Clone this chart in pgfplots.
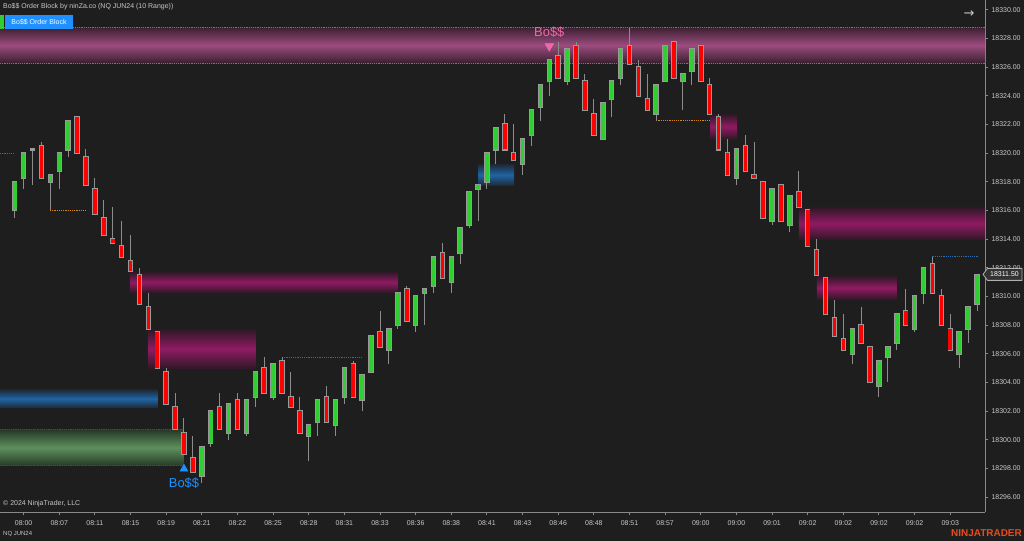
\documentclass[border=0pt]{standalone}
\usepackage{pgfplots}
\usepackage{pgfplotstable}
\pgfplotsset{compat=1.18}
\usetikzlibrary{backgrounds}
\usepackage{fontspec}
\setmainfont{Liberation Sans}
\newfontfamily\dejavu{DejaVu Sans}

\definecolor{bg}{HTML}{1E1E1E}
\definecolor{upc}{HTML}{32CD32}
\definecolor{dnc}{HTML}{FF0000}
\definecolor{outc}{HTML}{9A9A9A}
\definecolor{wickc}{HTML}{8C8C8C}
\definecolor{axisc}{HTML}{8A8A8A}
\definecolor{labc}{HTML}{C8C8C8}
\definecolor{pinkmid}{HTML}{901A62}
\definecolor{pinkedge}{HTML}{2E1826}
\definecolor{topmid}{HTML}{9C4C7E}
\definecolor{topedge}{HTML}{3A1F30}
\definecolor{bluemid}{HTML}{1F64A4}
\definecolor{blueedge}{HTML}{1E2A38}
\definecolor{greenmid}{HTML}{5E905E}
\definecolor{greenedge}{HTML}{253825}
\definecolor{dotorange}{HTML}{D4881E}
\definecolor{dotblue}{HTML}{2B6CB0}
\definecolor{dotgreen}{HTML}{2E8B2E}
\definecolor{dotolive}{HTML}{8A7A3A}
\definecolor{dotteal}{HTML}{2E5A5A}
\definecolor{bosspink}{HTML}{EE6AA7}
\definecolor{bossblue}{HTML}{1E90FF}
\definecolor{ntorange}{HTML}{E84C1F}
\definecolor{pricefill}{HTML}{333333}
\definecolor{priceedge}{HTML}{B0B0B0}

% range bars: i, open, high, low, close
\pgfplotstableread{
i O H L C
0 18316.00 18318.00 18315.50 18318.00
1 18318.25 18320.00 18317.50 18320.00
2 18320.25 18320.25 18317.75 18320.25
4 18318.00 18318.50 18316.00 18318.50
5 18318.75 18320.00 18317.50 18320.00
6 18320.25 18322.25 18319.75 18322.25
21 18297.50 18299.50 18297.00 18299.50
22 18299.75 18302.00 18299.50 18302.00
24 18300.50 18302.50 18300.00 18302.50
26 18300.50 18302.75 18300.25 18302.75
27 18303.00 18304.75 18302.25 18304.75
29 18303.00 18305.25 18302.75 18305.25
33 18300.25 18301.00 18298.50 18301.00
34 18301.25 18302.75 18300.25 18302.75
36 18301.00 18302.75 18300.25 18302.75
37 18303.00 18305.00 18302.50 18305.00
39 18302.75 18304.50 18302.00 18304.50
40 18304.75 18307.25 18304.75 18307.25
42 18306.25 18307.75 18305.25 18307.75
43 18308.00 18310.25 18307.75 18310.25
45 18308.00 18310.00 18307.50 18310.00
46 18310.25 18310.50 18308.00 18310.50
47 18310.75 18312.75 18310.25 18312.75
49 18311.00 18312.75 18310.25 18312.75
50 18313.00 18314.75 18312.25 18314.75
51 18315.00 18317.25 18314.75 18317.25
52 18317.50 18317.75 18315.25 18317.75
53 18318.00 18320.00 18317.50 18320.00
54 18320.25 18321.75 18319.25 18321.75
57 18319.25 18321.00 18318.50 18321.00
58 18321.25 18323.00 18320.50 18323.00
59 18323.25 18324.75 18322.25 18324.75
60 18325.00 18326.50 18324.00 18326.50
62 18325.00 18327.25 18324.75 18327.25
66 18321.00 18323.50 18321.00 18323.50
67 18323.75 18325.00 18322.50 18325.00
68 18325.25 18327.25 18324.75 18327.25
72 18322.75 18324.75 18322.25 18324.75
73 18325.00 18327.50 18325.00 18327.50
75 18325.00 18325.50 18323.00 18325.50
76 18325.75 18327.25 18324.75 18327.25
81 18318.25 18320.25 18317.75 18320.25
85 18315.25 18317.50 18315.00 18317.50
87 18315.00 18317.00 18314.50 18317.00
94 18306.00 18307.75 18305.25 18307.75
97 18303.75 18305.50 18303.00 18305.50
98 18305.75 18306.50 18304.00 18306.50
99 18306.75 18308.75 18306.25 18308.75
101 18307.75 18310.00 18307.50 18310.00
102 18310.25 18312.00 18309.50 18312.00
106 18306.00 18307.50 18305.00 18307.50
107 18307.75 18309.25 18306.75 18309.25
108 18309.50 18311.50 18309.00 18311.50
}\upbars

\pgfplotstableread{
i O H L C
3 18320.50 18320.75 18318.25 18318.25
7 18322.50 18322.50 18320.00 18320.00
8 18319.75 18320.25 18317.75 18317.75
9 18317.50 18318.25 18315.75 18315.75
10 18315.50 18316.75 18314.25 18314.25
11 18314.00 18316.25 18313.75 18313.75
12 18313.50 18315.25 18312.75 18312.75
13 18312.50 18314.25 18311.75 18311.75
14 18311.50 18312.00 18309.50 18309.50
15 18309.25 18310.25 18307.75 18307.75
16 18307.50 18307.50 18305.00 18305.00
17 18304.75 18305.00 18302.50 18302.50
18 18302.25 18303.25 18300.75 18300.75
19 18300.50 18301.50 18299.00 18299.00
20 18298.75 18300.25 18297.75 18297.75
23 18302.25 18303.25 18300.75 18300.75
25 18302.75 18303.25 18300.75 18300.75
28 18305.00 18305.75 18303.25 18303.25
30 18305.50 18305.75 18303.25 18303.25
31 18303.00 18304.75 18302.25 18302.25
32 18302.00 18303.00 18300.50 18300.50
35 18303.00 18303.75 18301.25 18301.25
38 18305.25 18305.50 18303.00 18303.00
41 18307.50 18309.00 18306.50 18306.50
44 18310.50 18310.75 18308.25 18308.25
48 18313.00 18313.75 18311.25 18311.25
55 18322.00 18322.75 18320.25 18320.25
56 18320.00 18322.00 18319.50 18319.50
61 18326.75 18327.75 18325.25 18325.25
63 18327.50 18327.75 18325.25 18325.25
64 18325.00 18325.50 18323.00 18323.00
65 18322.75 18323.75 18321.25 18321.25
69 18327.50 18328.75 18326.25 18326.25
70 18326.00 18326.50 18324.00 18324.00
71 18323.75 18325.50 18323.00 18323.00
74 18327.75 18327.75 18325.25 18325.25
77 18327.50 18327.50 18325.00 18325.00
78 18324.75 18325.25 18322.75 18322.75
79 18322.50 18322.75 18320.25 18320.25
80 18320.00 18321.00 18318.50 18318.50
82 18320.50 18321.25 18318.75 18318.75
83 18318.50 18320.75 18318.25 18318.25
84 18318.00 18318.00 18315.50 18315.50
86 18317.75 18317.75 18315.25 18315.25
88 18317.25 18318.75 18316.25 18316.25
89 18316.00 18316.00 18313.50 18313.50
90 18313.25 18314.00 18311.50 18311.50
91 18311.25 18311.25 18308.75 18308.75
92 18308.50 18309.75 18307.25 18307.25
93 18307.00 18308.75 18306.25 18306.25
95 18308.00 18309.25 18306.75 18306.75
96 18306.50 18306.50 18304.00 18304.00
100 18309.00 18310.50 18308.00 18308.00
103 18312.25 18312.75 18310.25 18310.25
104 18310.00 18310.50 18308.00 18308.00
105 18307.75 18308.75 18306.25 18306.25
}\dnbars

% exact decimal helper columns (offset from 18300)
\pgfplotstableset{
  mklo/.style={create col/assign/.code={\edef\entry{\fpeval{min(\thisrow{O},\thisrow{C})-18300}}\pgfkeyslet{/pgfplots/table/create col/next content}\entry}},
  mkbh/.style={create col/assign/.code={\edef\entry{\fpeval{abs(\thisrow{C}-\thisrow{O})}}\pgfkeyslet{/pgfplots/table/create col/next content}\entry}},
  mklw/.style={create col/assign/.code={\edef\entry{\fpeval{\thisrow{L}-18300}}\pgfkeyslet{/pgfplots/table/create col/next content}\entry}},
  mkwh/.style={create col/assign/.code={\edef\entry{\fpeval{\thisrow{H}-\thisrow{L}}}\pgfkeyslet{/pgfplots/table/create col/next content}\entry}},
}
\pgfplotstablecreatecol[mklo]{lo}\upbars
\pgfplotstablecreatecol[mkbh]{bh}\upbars
\pgfplotstablecreatecol[mklw]{lw}\upbars
\pgfplotstablecreatecol[mkwh]{wh}\upbars
\pgfplotstablecreatecol[mklo]{lo}\dnbars
\pgfplotstablecreatecol[mkbh]{bh}\dnbars
\pgfplotstablecreatecol[mklw]{lw}\dnbars
\pgfplotstablecreatecol[mkwh]{wh}\dnbars

\pgfplotsset{
  raw/.style={y filter/.expression={y-18300}},
  zone/.style n args={2}{raw, draw=none, forget plot, top color=#2, bottom color=#2, middle color=#1},
  dotl/.style={raw, forget plot, line width=1bp, dash pattern=on 1.2bp off 1bp, #1},
  wicks/.style={draw=none, mark=none, forget plot,
    error bars/.cd, y dir=plus, y explicit, error mark=none,
    error bar style={draw=wickc, line width=1bp, solid}},
  bodies/.style n args={2}{draw=none, mark=none, forget plot,
    error bars/.cd, y dir=plus, y explicit, error mark=none,
    error bar style={draw=#1, line width=#2, solid}},
}

\begin{document}
\begin{tikzpicture}[x=1bp,y=1bp]
\begin{axis}[
  at={(0,19.9)}, anchor=south west,
  width=985bp, height=512bp, scale only axis,
  xmin=-1.65, xmax=108.9,
  ymin=-5.08, ymax=30.65,
  axis x line*=bottom, axis y line*=right,
  axis line style={draw=axisc, line width=1bp},
  tick align=outside, major tick length=3bp,
  major tick style={draw=axisc, line width=1bp},
  minor tick num=0,
  xtick={1,5,...,105},
  xticklabels={08:00,08:07,08:11,08:15,08:19,08:21,08:22,08:25,08:28,08:31,08:33,08:36,08:38,08:41,08:43,08:46,08:48,08:51,08:57,09:00,09:00,09:01,09:02,09:02,09:02,09:02,09:03},
  ytick={-4,-2,...,30},
  yticklabels={18296.00,18298.00,18300.00,18302.00,18304.00,18306.00,18308.00,18310.00,18312.00,18314.00,18316.00,18318.00,18320.00,18322.00,18324.00,18326.00,18328.00,18330.00},
  ticklabel style={font=\fontsize{7}{8}\selectfont, text=labc},
  xticklabel shift=2bp,
]
% order-block zones
\addplot[zone={topmid}{topedge}] coordinates {(-1.65,18326.28) (108.9,18326.28) (108.9,18328.79) (-1.65,18328.79)} -- cycle;
\addplot[zone={pinkmid}{pinkedge}] coordinates {(12.94,18310.25) (43.02,18310.25) (43.02,18311.70) (12.94,18311.70)} -- cycle;
\addplot[zone={pinkmid}{pinkedge}] coordinates {(14.96,18304.95) (27.08,18304.95) (27.08,18307.72) (14.96,18307.72)} -- cycle;
\addplot[zone={bluemid}{blueedge}] coordinates {(-1.65,18302.23) (16.05,18302.23) (16.05,18303.48) (-1.65,18303.48)} -- cycle;
\addplot[zone={greenmid}{greenedge}] coordinates {(-1.65,18298.18) (19.0,18298.18) (19.0,18300.71) (-1.65,18300.71)} -- cycle;
\addplot[zone={bluemid}{blueedge}] coordinates {(52.0,18317.74) (56.04,18317.74) (56.04,18319.21) (52.0,18319.21)} -- cycle;
\addplot[zone={pinkmid}{pinkedge}] coordinates {(78.04,18320.97) (81.07,18320.97) (81.07,18322.72) (78.04,18322.72)} -- cycle;
\addplot[zone={pinkmid}{pinkedge}] coordinates {(88.02,18313.95) (108.9,18313.95) (108.9,18316.23) (88.02,18316.23)} -- cycle;
\addplot[zone={pinkmid}{pinkedge}] coordinates {(90.04,18309.77) (99.02,18309.77) (99.02,18311.41) (90.04,18311.41)} -- cycle;
% dotted level lines
\addplot[dotl=dotolive] coordinates {(-1.65,18328.79) (108.9,18328.79)};
\addplot[dotl=dotolive] coordinates {(-1.65,18326.28) (108.9,18326.28)};
\addplot[dotl=dotteal] coordinates {(-1.65,18300.71) (19.0,18300.71)};
\addplot[dotl=dotteal] coordinates {(-1.65,18298.18) (19.0,18298.18)};
\addplot[dotl=dotgreen] coordinates {(-1.65,18320.0) (0,18320.0)};
\addplot[dotl=dotorange] coordinates {(3.96,18316.0) (8.0,18316.0)};
\addplot[dotl=dotblue] coordinates {(30.0,18305.75) (39.0,18305.75)};
\addplot[dotl=dotorange] coordinates {(72.0,18322.25) (78.04,18322.25)};
\addplot[dotl=dotblue] coordinates {(103.0,18312.75) (108.1,18312.75)};
% wicks
\addplot[wicks] table[x=i, y=lw, y error plus=wh] {\upbars};
\addplot[wicks] table[x=i, y=lw, y error plus=wh] {\dnbars};
% body outlines
\addplot[bodies={outc}{5.5bp}] table[x=i, y expr=\thisrow{lo}-0.07, y error plus expr=\thisrow{bh}+0.14] {\upbars};
\addplot[bodies={outc}{5.5bp}] table[x=i, y expr=\thisrow{lo}-0.07, y error plus expr=\thisrow{bh}+0.14] {\dnbars};
% body fills
\addplot[bodies={upc}{3.6bp}] table[x=i, y=lo, y error plus=bh] {\upbars};
\addplot[bodies={dnc}{3.6bp}] table[x=i, y=lo, y error plus=bh] {\dnbars};
% Bo$$ signals
\addplot[raw, only marks, mark=triangle*, mark size=4.6bp, color=bossblue, mark options={draw=none}, forget plot] coordinates {(19,18297.97)};
\addplot[raw, only marks, mark=triangle*, mark size=5bp, color=bosspink, mark options={draw=none, rotate=180}, forget plot] coordinates {(60,18327.46)};
\addplot[raw, draw=none, mark=none, forget plot, nodes near coords={Bo\$\$}, nodes near coords align={center},
  every node near coord/.append style={text=bossblue, font=\fontsize{13}{14}\selectfont, inner sep=0pt}] coordinates {(19,18296.95)};
\addplot[raw, draw=none, mark=none, forget plot, nodes near coords={Bo\$\$}, nodes near coords align={center},
  every node near coord/.append style={text=bosspink, font=\fontsize{13}{14}\selectfont, inner sep=0pt}] coordinates {(60,18328.45)};
\end{axis}
% header
\node[anchor=west, text=labc, font=\fontsize{7}{8}\selectfont, inner sep=0pt] at (3,534) {Bo\$\$ Order Block by ninZa.co (NQ JUN24 (10 Range))};
\fill[upc] (0,512) rectangle (4,526);
\fill[bossblue] (5,512) rectangle (73,526);
\node[text=white, font=\fontsize{7}{8}\selectfont, inner sep=0pt] at (39,519) {Bo\$\$ Order Block};
\node[text=labc, font=\dejavu\fontsize{13}{14}\selectfont, inner sep=0pt] at (969,527) {→};
% footer
\node[anchor=west, text=labc, font=\fontsize{7}{8}\selectfont, inner sep=0pt] at (3,37) {© 2024 NinjaTrader, LLC};
\node[anchor=west, text=labc, font=\fontsize{6}{7}\selectfont, inner sep=0pt] at (3,7.5) {NQ JUN24};
\node[anchor=east, text=ntorange, font=\bfseries\fontsize{10}{11}\selectfont, inner sep=0pt] at (1022,8) {NINJATRADER};
% last price marker
\filldraw[fill=pricefill, draw=priceedge, line width=0.8bp] (983,266.6) -- (987.5,272.6) -- (1022,272.6) -- (1022,260.6) -- (987.5,260.6) -- cycle;
\node[text=white, font=\fontsize{7}{8}\selectfont, inner sep=0pt] at (1004.5,266.6) {18311.50};
\begin{scope}[on background layer]
\fill[bg] (0,0) rectangle (1024,541);
\end{scope}
\pgfresetboundingbox
\useasboundingbox (0,0) rectangle (1024,541);
\end{tikzpicture}
\end{document}
